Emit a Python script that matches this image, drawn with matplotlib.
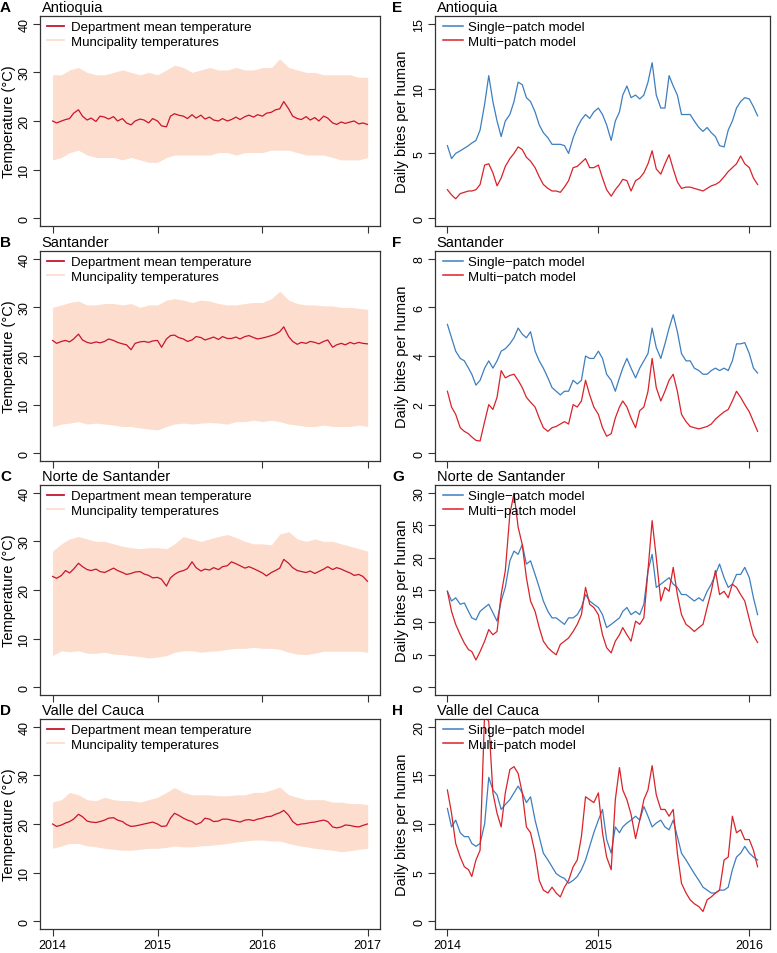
import matplotlib
matplotlib.use('Agg')
import matplotlib.pyplot as plt
import pandas as pd
from matplotlib.lines import Line2D

plt.rcParams['font.family'] = ['Liberation Sans', 'DejaVu Sans']

# ---------------- dates ----------------
temp_dates = list(pd.date_range('2014-01-01', '2016-12-15', freq='SMS')) + [pd.Timestamp('2016-12-31')]
env_dates = pd.date_range('2014-01-01', '2017-01-01', freq='MS')
bite_months = [(2014, m) for m in range(1, 13)] + [(2015, m) for m in range(1, 13)] + [(2016, 1)]
bite_dates = [pd.Timestamp(y, m, d) for (y, m) in bite_months for d in (1, 11, 21)]

departments = ['Antioquia', 'Santander', 'Norte de Santander', 'Valle del Cauca']
temp_letters = ['A', 'B', 'C', 'D']
bite_letters = ['E', 'F', 'G', 'H']

# ---------------- department mean temperature (semi-monthly) ----------------
antioquia_mean = [20.0, 19.6, 20.0, 20.3, 20.5, 21.6, 22.3, 21.0, 20.2, 20.6,
                  19.9, 21.0, 20.8, 20.4, 20.9, 20.0, 20.5, 19.6, 19.2, 20.0,
                  20.4, 20.2, 19.6, 20.5, 20.0, 19.0, 18.8, 21.0, 21.5, 21.2,
                  21.0, 20.5, 21.3, 20.6, 21.2, 20.4, 20.8, 20.2, 20.0, 20.5,
                  20.0, 20.3, 20.8, 20.3, 20.9, 21.2, 20.8, 21.3, 21.0, 21.6,
                  21.8, 22.3, 22.5, 24.0, 22.5, 21.0, 20.5, 20.3, 20.9, 20.2,
                  20.7, 20.0, 21.0, 20.6, 19.6, 19.3, 19.8, 19.5, 19.8, 20.0,
                  19.4, 19.6, 19.3]
santander_mean = [23.2, 22.6, 23.0, 23.2, 22.9, 23.5, 24.5, 23.3, 22.8, 22.6,
                  22.9, 22.7, 23.0, 23.5, 23.2, 22.8, 22.5, 22.3, 21.3, 22.6,
                  22.9, 23.0, 22.8, 23.1, 23.2, 21.8, 23.5, 24.2, 24.3, 23.8,
                  23.5, 23.0, 23.3, 24.0, 23.8, 23.3, 23.6, 23.9, 23.4, 24.0,
                  23.6, 23.6, 23.9, 23.5, 24.0, 24.2, 23.8, 23.5, 23.7, 23.9,
                  24.2, 24.5, 25.0, 26.0, 24.0, 23.0, 22.4, 22.8, 22.6, 23.0,
                  22.8, 22.5, 23.0, 23.3, 21.8, 22.3, 22.6, 22.3, 22.8, 22.5,
                  22.8, 22.6, 22.5]
norte_mean = [22.8, 22.4, 23.0, 24.0, 23.5, 24.3, 25.5, 24.8, 24.2, 24.0,
              24.3, 23.8, 23.6, 24.0, 24.5, 24.0, 23.6, 23.2, 23.4, 23.7,
              23.8, 23.3, 23.0, 22.5, 22.6, 22.2, 20.8, 22.5, 23.2, 23.7,
              24.0, 24.4, 25.8, 24.6, 23.9, 24.3, 24.1, 24.6, 24.2, 24.8,
              25.0, 25.8, 25.4, 25.0, 24.5, 24.8, 24.4, 24.0, 23.5, 22.9,
              23.6, 24.0, 24.5, 26.3, 25.5, 24.6, 24.0, 23.8, 23.6, 23.9,
              23.4, 23.8, 24.3, 24.8, 24.2, 24.6, 24.3, 23.9, 23.5, 23.0,
              23.2, 22.8, 21.8]
valle_mean = [20.0, 19.5, 19.8, 20.2, 20.5, 21.0, 22.0, 21.5, 20.6, 20.4,
              20.3, 20.5, 20.8, 21.2, 21.3, 20.8, 20.5, 19.9, 19.5, 19.6,
              19.8, 20.0, 20.2, 20.4, 20.0, 19.5, 19.6, 21.2, 22.2, 21.8,
              21.2, 20.8, 20.5, 19.9, 20.3, 21.2, 21.0, 20.5, 20.6, 21.0,
              21.0, 20.8, 20.6, 20.4, 20.8, 20.9, 20.7, 21.0, 21.2, 21.5,
              21.6, 22.0, 22.3, 22.8, 21.8, 20.5, 19.8, 20.0, 20.1, 20.3,
              20.4, 20.6, 20.8, 20.5, 19.4, 19.2, 19.4, 19.8, 19.7, 19.5,
              19.4, 19.7, 20.0]

# ---------------- municipality temperature range (monthly envelopes) ----------------
antioquia_hi = [29.5, 29.5, 30.5, 31.0, 30.0, 29.5, 29.5, 30.0, 30.5, 30.0, 29.5, 30.0,
                29.5, 30.5, 31.5, 31.0, 30.0, 30.5, 31.0, 30.5, 30.5, 31.0, 30.5, 30.5,
                31.0, 31.0, 32.8, 31.0, 30.5, 30.0, 30.0, 29.5, 29.5, 29.5, 29.5, 29.0, 29.0]
antioquia_lo = [12.0, 12.5, 13.5, 14.0, 13.0, 12.5, 12.5, 12.5, 12.0, 12.5, 12.0, 11.5,
                11.5, 12.5, 13.0, 13.0, 13.0, 13.0, 13.0, 13.5, 13.5, 13.0, 13.5, 13.5,
                13.5, 14.0, 14.0, 14.0, 13.5, 13.0, 13.0, 13.0, 12.5, 12.0, 12.0, 12.0, 12.5]
santander_hi = [30.0, 30.5, 31.0, 31.3, 30.5, 30.5, 30.8, 30.8, 30.5, 30.8, 30.0, 30.5,
                30.5, 31.5, 31.8, 31.5, 31.0, 31.5, 31.3, 30.8, 30.5, 30.5, 30.8, 31.0,
                31.0, 31.8, 33.3, 31.5, 30.8, 30.5, 30.5, 30.3, 30.3, 30.0, 30.0, 29.8, 29.6]
santander_lo = [5.5, 6.0, 6.2, 6.5, 6.0, 6.2, 6.0, 5.8, 5.5, 5.5, 5.2, 5.0,
                4.8, 5.5, 6.0, 6.2, 6.0, 6.2, 6.3, 6.2, 6.0, 6.5, 6.5, 6.8,
                6.5, 6.8, 6.5, 6.0, 5.8, 5.5, 5.5, 5.8, 5.5, 5.5, 5.5, 5.8, 5.5]
norte_hi = [28.0, 29.5, 30.5, 31.0, 30.5, 30.0, 30.0, 29.5, 29.0, 28.7, 28.5, 28.7,
            28.7, 28.5, 29.5, 31.0, 30.5, 30.0, 30.5, 31.0, 31.4, 30.8, 30.0, 29.5,
            29.5, 29.3, 31.5, 32.0, 30.5, 30.0, 30.5, 30.0, 30.0, 29.5, 29.0, 28.5, 28.0]
norte_lo = [6.5, 7.5, 7.3, 7.5, 7.0, 7.0, 7.2, 6.8, 6.7, 6.5, 6.3, 6.0,
            6.2, 6.5, 7.2, 7.5, 7.5, 7.2, 7.4, 7.5, 7.8, 8.0, 8.0, 8.2,
            8.0, 8.0, 7.8, 7.2, 6.8, 6.7, 7.0, 7.4, 7.4, 7.4, 7.4, 7.4, 7.2]
valle_hi = [24.5, 25.0, 26.5, 26.0, 25.0, 24.8, 25.5, 25.0, 24.8, 24.8, 24.5, 25.0,
            25.5, 26.5, 27.5, 26.5, 26.0, 26.0, 26.0, 25.8, 25.8, 26.0, 26.0, 26.5,
            26.5, 27.0, 27.6, 26.0, 25.5, 25.0, 25.0, 25.0, 24.5, 24.5, 24.2, 24.2, 24.0]
valle_lo = [15.0, 15.5, 16.0, 16.0, 15.5, 15.3, 15.0, 14.8, 14.6, 14.6, 14.8, 15.0,
            15.0, 15.2, 15.5, 15.3, 15.3, 15.5, 15.6, 15.8, 16.0, 16.3, 16.5, 16.7,
            16.7, 16.5, 16.5, 16.0, 15.6, 15.3, 15.0, 14.8, 14.6, 14.3, 14.5, 14.8, 15.0]

# ---------------- daily bites per human (days 1, 11, 21 of each month) ----------------
antioquia_single = [5.6, 4.6, 5.0, 5.2, 5.4, 5.6, 5.8, 6.0, 6.8, 8.8, 11.0, 9.0,
                    7.5, 6.3, 7.5, 8.0, 9.0, 10.5, 10.3, 9.3, 9.0, 8.2, 7.2, 6.6,
                    6.2, 5.7, 5.7, 5.7, 5.6, 5.0, 6.2, 7.0, 7.6, 8.0, 7.7, 8.2,
                    8.5, 8.0, 7.2, 6.0, 7.5, 8.2, 9.5, 10.2, 9.3, 9.5, 9.2, 9.5,
                    10.5, 12.0, 9.5, 8.5, 8.5, 11.0, 10.2, 9.5, 8.0, 8.0, 8.0, 7.5,
                    7.0, 6.7, 7.0, 6.6, 6.3, 5.6, 5.5, 6.8, 7.5, 8.5, 9.0, 9.3,
                    9.2, 8.6, 7.9]
antioquia_multi = [2.2, 1.8, 1.5, 1.9, 2.0, 2.1, 2.1, 2.2, 2.6, 4.1, 4.2, 3.5,
                   2.5, 3.1, 4.0, 4.6, 5.0, 5.5, 5.3, 4.7, 4.4, 3.9, 3.2, 2.6,
                   2.3, 2.1, 2.1, 2.0, 2.4, 2.9, 3.9, 4.0, 4.3, 4.6, 3.9, 3.9,
                   4.1, 3.1, 2.2, 1.7, 2.2, 2.6, 3.0, 2.9, 2.1, 2.9, 3.1, 3.5,
                   4.2, 5.2, 3.8, 3.4, 4.2, 4.9, 3.8, 2.8, 2.3, 2.4, 2.4, 2.3,
                   2.2, 2.1, 2.3, 2.5, 2.6, 2.8, 3.2, 3.6, 3.9, 4.2, 4.8, 4.2,
                   3.9, 3.1, 2.6]
santander_single = [5.3, 4.75, 4.2, 3.9, 3.8, 3.5, 3.25, 2.8, 3.0, 3.5, 3.8, 3.5,
                    3.8, 4.2, 4.3, 4.5, 4.75, 5.15, 4.9, 4.75, 5.0, 4.2, 3.8, 3.5,
                    3.1, 2.7, 2.55, 2.4, 2.55, 2.55, 3.0, 2.85, 3.0, 4.0, 3.9, 3.9,
                    4.2, 3.9, 3.25, 3.0, 2.55, 3.1, 3.5, 3.9, 3.5, 3.1, 3.5, 3.8,
                    4.1, 5.15, 4.35, 3.9, 4.5, 5.15, 5.7, 5.0, 4.1, 3.8, 3.8, 3.5,
                    3.4, 3.25, 3.25, 3.4, 3.5, 3.4, 3.5, 3.4, 3.8, 4.5, 4.5, 4.55,
                    4.1, 3.5, 3.3]
santander_multi = [2.55, 1.9, 1.6, 1.05, 0.9, 0.8, 0.67, 0.53, 0.5, 1.3, 2.0, 1.8,
                   2.3, 3.4, 3.1, 3.2, 3.25, 3.0, 2.7, 2.3, 2.1, 1.9, 1.45, 1.05,
                   0.9, 1.05, 1.1, 1.2, 1.3, 1.2, 2.0, 1.9, 2.15, 3.0, 2.4, 1.9,
                   1.6, 1.05, 0.7, 0.8, 1.45, 1.9, 2.15, 1.9, 1.45, 1.05, 1.75, 1.9,
                   2.55, 3.9, 2.7, 2.15, 2.55, 3.0, 3.25, 2.55, 1.6, 1.3, 1.1, 1.05,
                   1.0, 1.05, 1.1, 1.2, 1.4, 1.55, 1.7, 1.8, 2.15, 2.55, 2.3, 2.0,
                   1.7, 1.3, 0.9]
norte_single = [14.8, 13.3, 13.8, 12.8, 13.0, 11.7, 10.7, 10.4, 11.7, 12.3, 12.8, 11.5,
                10.2, 13.3, 15.4, 19.5, 21.0, 20.5, 22.0, 19.0, 19.5, 17.4, 15.4, 13.3,
                11.7, 10.7, 10.7, 10.2, 9.7, 10.7, 10.7, 11.2, 12.3, 14.3, 13.3, 12.8,
                12.3, 11.2, 9.2, 9.7, 10.2, 10.7, 11.7, 12.3, 11.2, 11.7, 11.2, 12.8,
                18.0, 20.5, 15.4, 15.9, 16.4, 16.9, 15.9, 15.4, 14.3, 14.3, 13.8, 13.3,
                13.8, 13.3, 14.8, 15.9, 17.4, 19.0, 16.9, 15.4, 15.9, 17.4, 17.4, 18.5,
                16.9, 13.8, 11.2]
norte_multi = [14.8, 11.7, 9.7, 8.1, 6.8, 5.8, 5.5, 4.2, 5.5, 7.1, 8.9, 8.1,
               8.6, 14.3, 18.0, 26.7, 29.9, 24.7, 22.0, 16.9, 13.3, 11.7, 9.2, 7.1,
               6.1, 5.5, 5.0, 6.6, 7.1, 7.6, 8.6, 9.7, 11.2, 15.4, 12.8, 12.3,
               11.2, 8.1, 6.1, 5.3, 7.1, 8.1, 9.2, 8.1, 7.1, 10.2, 9.7, 10.7,
               18.0, 25.7, 20.0, 13.3, 15.4, 14.8, 18.5, 14.3, 11.2, 9.7, 9.2, 8.6,
               9.2, 9.7, 12.3, 14.8, 18.0, 14.3, 14.8, 13.8, 15.9, 15.4, 14.3, 13.3,
               10.5, 8.0, 6.9]
valle_single = [11.6, 9.7, 10.4, 9.1, 8.7, 8.7, 8.0, 7.7, 8.0, 10.0, 14.8, 13.5,
                13.0, 11.5, 12.0, 12.5, 13.2, 13.9, 13.2, 12.2, 12.8, 10.4, 8.7, 7.0,
                6.3, 5.6, 4.9, 4.6, 4.4, 3.9, 4.2, 4.6, 5.3, 6.3, 7.7, 9.1,
                10.4, 11.5, 8.4, 7.0, 9.7, 9.1, 9.7, 10.1, 10.4, 10.8, 10.4, 11.8,
                10.8, 9.7, 10.1, 10.4, 9.7, 9.4, 10.4, 8.7, 7.0, 6.3, 5.6, 4.9,
                4.2, 3.5, 3.2, 2.9, 2.9, 3.2, 3.2, 3.5, 5.3, 6.6, 7.0, 7.7,
                7.0, 6.6, 6.3]
valle_multi = [13.5, 11.1, 8.0, 6.6, 5.6, 5.3, 4.6, 6.3, 7.3, 21.5, 20.5, 13.2,
               11.1, 9.7, 13.2, 15.6, 15.9, 15.2, 13.2, 9.7, 9.1, 7.0, 4.2, 3.2,
               2.9, 3.5, 2.9, 2.5, 3.5, 4.2, 5.6, 6.3, 8.7, 12.8, 12.5, 12.2,
               13.2, 9.1, 6.6, 5.3, 12.5, 15.8, 13.5, 12.5, 11.0, 8.5, 10.4, 12.5,
               13.5, 16.0, 13.0, 11.5, 11.5, 10.8, 11.5, 7.0, 3.9, 2.9, 2.2, 1.8,
               1.5, 1.0, 2.2, 2.5, 2.9, 3.2, 6.3, 6.6, 10.8, 9.1, 9.4, 8.4,
               8.4, 7.3, 5.6]

temp_means = [antioquia_mean, santander_mean, norte_mean, valle_mean]
temp_his = [antioquia_hi, santander_hi, norte_hi, valle_hi]
temp_los = [antioquia_lo, santander_lo, norte_lo, valle_lo]
singles = [antioquia_single, santander_single, norte_single, valle_single]
multis = [antioquia_multi, santander_multi, norte_multi, valle_multi]
bite_ymax = [15, 8, 30, 20]
bite_yticks = [[0, 5, 10, 15], [0, 2, 4, 6, 8], [0, 5, 10, 15, 20, 25, 30], [0, 5, 10, 15, 20]]

# ---------------- styles ----------------
MEAN_C = '#C8152B'
BAND_C = '#FCDDCE'
BLUE = '#3D7EBF'
RED = '#D8232A'
SPINE = '#333333'

W, H = 777, 954
fig = plt.figure(figsize=(W / 100, H / 100), dpi=100)

row_tops = [17, 252, 486, 720]
ax_h = 210
left_x0, left_x1 = 40, 380
right_x0, right_x1 = 435, 770


def make_ax(x0, x1, top):
    return fig.add_axes([x0 / W, 1 - (top + ax_h) / H, (x1 - x0) / W, ax_h / H])


def style_ax(ax, bottom_row):
    for s in ax.spines.values():
        s.set_color(SPINE)
        s.set_linewidth(0.9)
    ax.tick_params(direction='out', length=5, width=0.8, color=SPINE, labelsize=9,
                   pad=2, labelcolor='black')
    for lbl in ax.get_yticklabels():
        lbl.set_rotation(90)
        lbl.set_va('center')
    if not bottom_row:
        ax.tick_params(axis='x', labelbottom=False)


def head(ax, top, letter, name, x_letter):
    ax.text(0.005, 1.01, name, transform=ax.transAxes, ha='left', va='bottom', fontsize=10.5)
    fig.text(x_letter / W, 1 - (top - 9) / H, letter, fontsize=11,
             fontweight='bold', ha='left', va='center')


t0, t1 = pd.Timestamp('2014-01-01'), pd.Timestamp('2016-12-31')
tpad = (t1 - t0) * 0.04
b0, b1 = bite_dates[0], bite_dates[-1]
bpad = (b1 - b0) * 0.04

for r in range(4):
    # ---------- temperature panel ----------
    ax = make_ax(left_x0, left_x1, row_tops[r])
    ax.fill_between(env_dates, temp_los[r], temp_his[r], color=BAND_C, lw=0)
    ax.plot(temp_dates, temp_means[r], color=MEAN_C, lw=0.9)
    ax.set_xlim(t0 - tpad, t1 + tpad)
    ax.set_ylim(-1.6, 41.6)
    ax.set_yticks([0, 10, 20, 30, 40])
    ax.set_xticks([pd.Timestamp(f'{y}-01-01') for y in (2014, 2015, 2016, 2017)])
    ax.set_xticklabels(['2014', '2015', '2016', '2017'])
    ax.set_ylabel('Temperature (°C)', fontsize=10.5)
    ax.yaxis.set_label_coords(-0.07, 0.5)
    handles = [Line2D([], [], color=MEAN_C, lw=1.3), Line2D([], [], color=BAND_C, lw=1.3)]
    ax.legend(handles, ['Department mean temperature', 'Muncipality temperatures'],
              loc='upper left', bbox_to_anchor=(0.02, 0.975), frameon=False, fontsize=9.5,
              handlelength=1.3, handletextpad=0.55, labelspacing=0.15,
              borderaxespad=0, borderpad=0)
    style_ax(ax, r == 3)
    head(ax, row_tops[r], temp_letters[r], departments[r], 0)

    # ---------- bites panel ----------
    ax2 = make_ax(right_x0, right_x1, row_tops[r])
    ax2.plot(bite_dates, singles[r], color=BLUE, lw=0.9)
    ax2.plot(bite_dates, multis[r], color=RED, lw=0.9)
    ax2.set_xlim(b0 - bpad, b1 + bpad)
    ym = bite_ymax[r]
    ax2.set_ylim(-0.04 * ym, 1.04 * ym)
    ax2.set_yticks(bite_yticks[r])
    ax2.set_xticks([pd.Timestamp(f'{y}-01-01') for y in (2014, 2015, 2016)])
    ax2.set_xticklabels(['2014', '2015', '2016'])
    ax2.set_ylabel('Daily bites per human', fontsize=10.5)
    ax2.yaxis.set_label_coords(-0.078, 0.5)
    handles = [Line2D([], [], color=BLUE, lw=1.1), Line2D([], [], color=RED, lw=1.1)]
    ax2.legend(handles, ['Single\u2212patch model', 'Multi\u2212patch model'],
               loc='upper left', bbox_to_anchor=(0.025, 0.975), frameon=False, fontsize=9.5,
               handlelength=1.45, handletextpad=0.45, labelspacing=0.15,
               borderaxespad=0, borderpad=0)
    style_ax(ax2, r == 3)
    head(ax2, row_tops[r], bite_letters[r], departments[r], 392)

fig.savefig('out.png', dpi=100)
